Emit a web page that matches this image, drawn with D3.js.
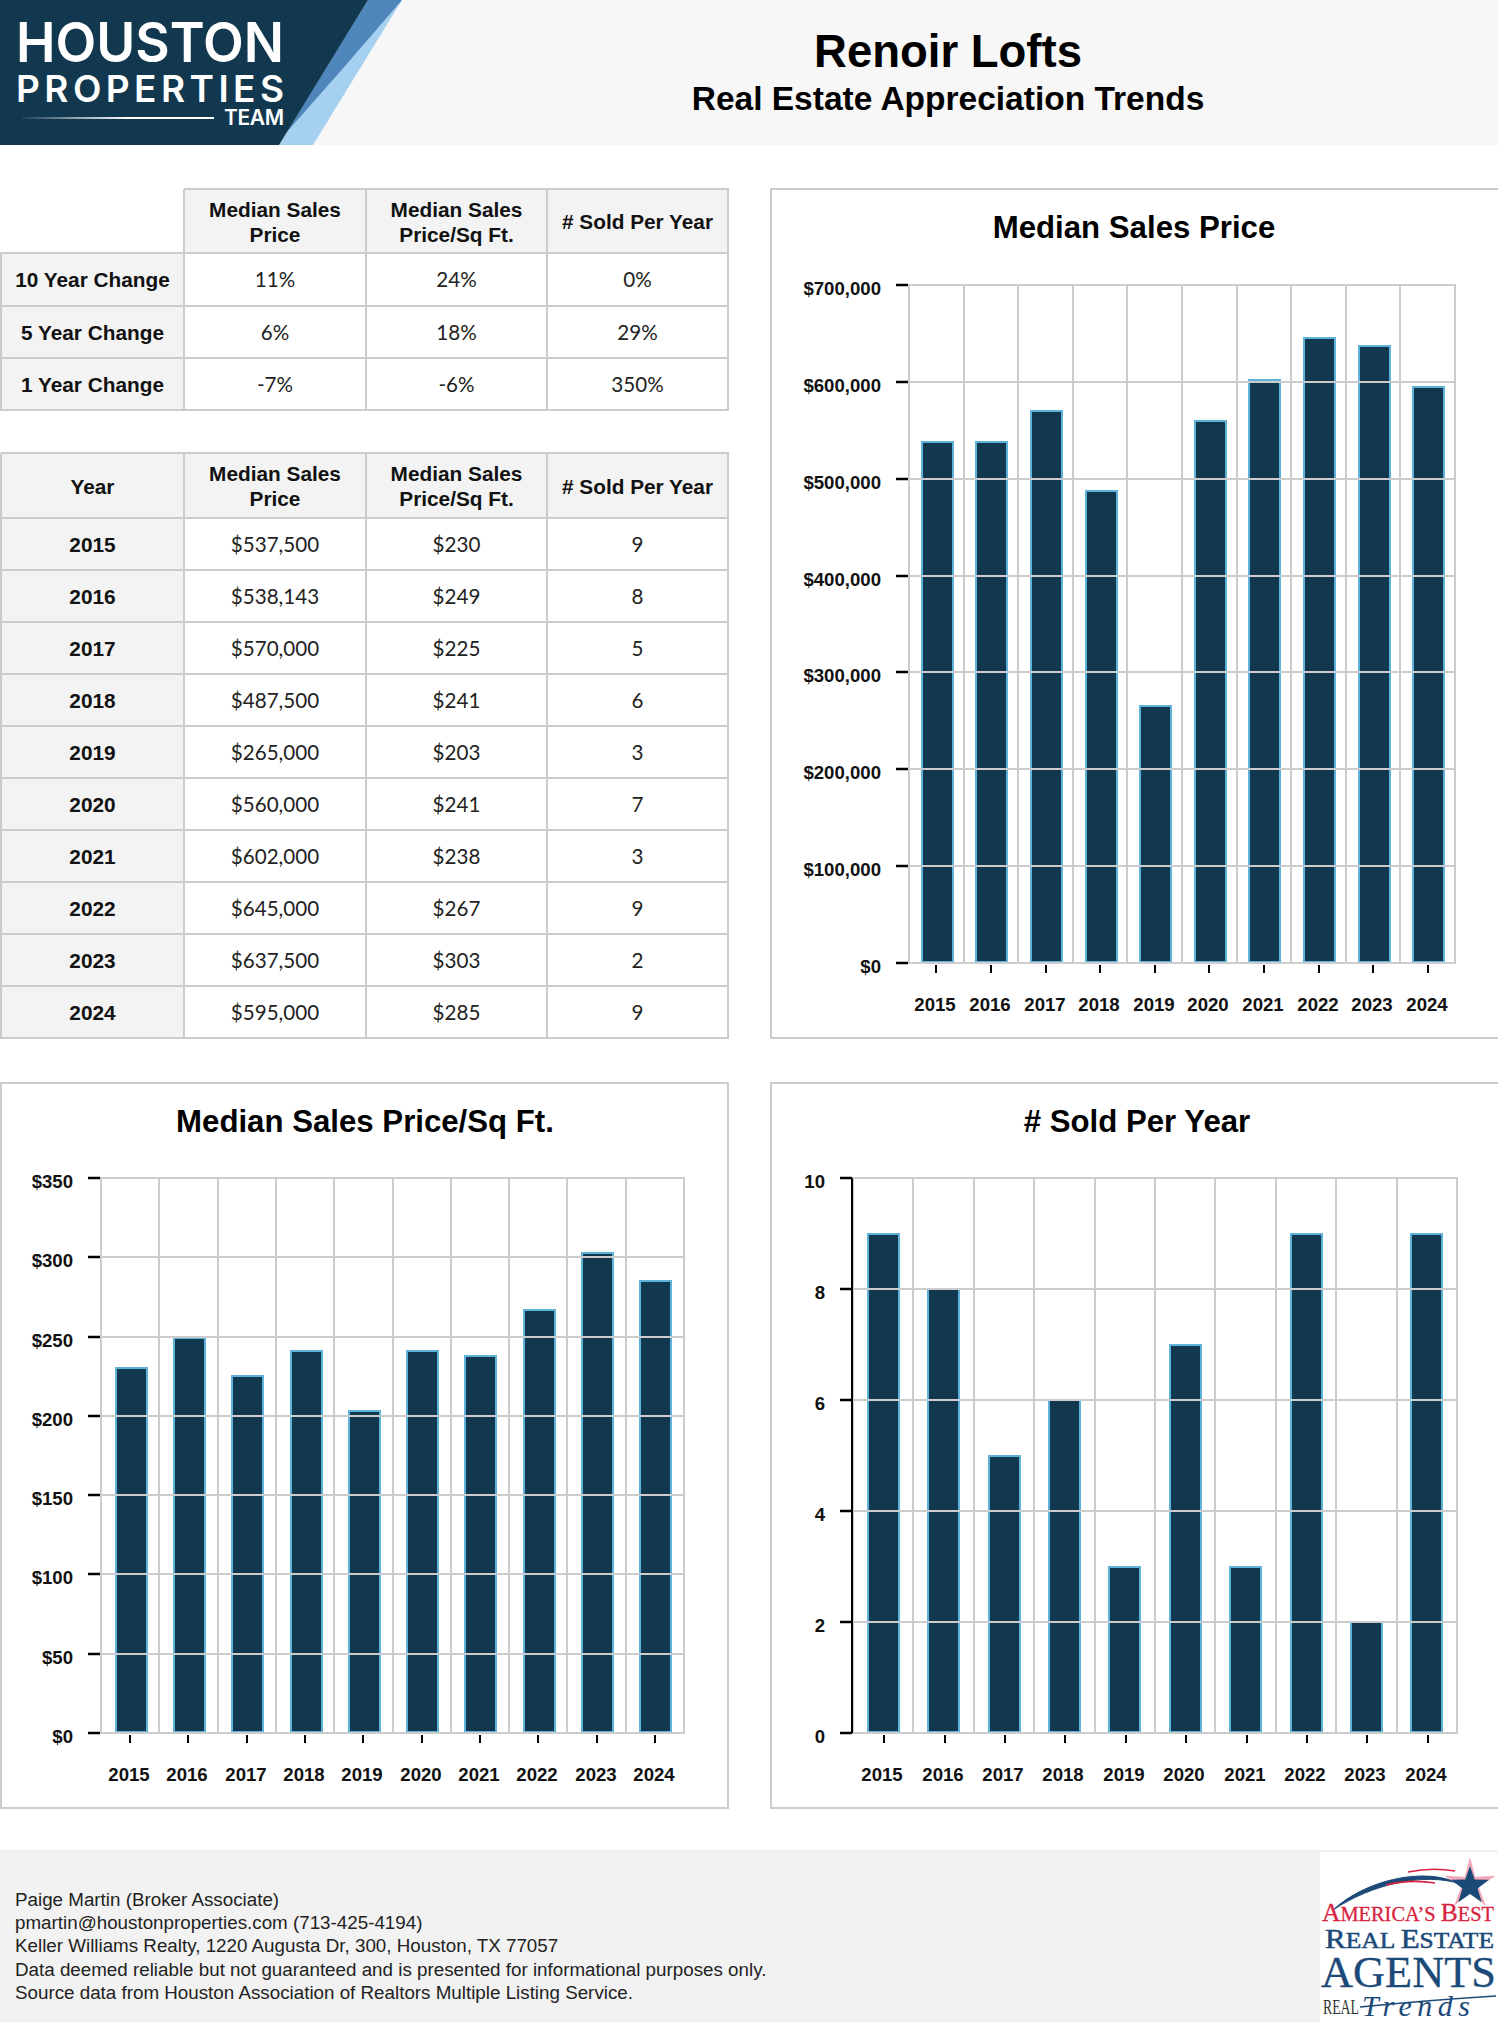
<!DOCTYPE html>
<html><head><meta charset="utf-8">
<script src="https://cdn.jsdelivr.net/npm/d3@7/dist/d3.min.js"></script>
<style>
html,body{margin:0;padding:0;background:#fff;overflow:hidden}
svg{display:block}
text{font-family:"Liberation Sans",Arial,sans-serif}
</style></head><body><div id="c"></div>
<script>
const years=["2015","2016","2017","2018","2019","2020","2021","2022","2023","2024"];
const prices=[537500,538143,570000,487500,265000,560000,602000,645000,637500,595000];
const pricePerSqft=[230,249,225,241,203,241,238,267,303,285];
const soldPerYear=[9,8,5,6,3,7,3,9,2,9];
const priceTicks=[0,100000,200000,300000,400000,500000,600000,700000];
const sqftTicks=[0,50,100,150,200,250,300,350];
const soldTicks=[0,2,4,6,8,10];
const changeLabels=["10 Year Change","5 Year Change","1 Year Change"];
const changePrice=["11%","6%","-7%"];
const changeSqft=["24%","18%","-6%"];
const changeSold=["0%","29%","350%"];
const headerLabels=[["Median Sales","Price"],["Median Sales","Price/Sq Ft."],["# Sold Per Year"]];
const footerLines=["Paige Martin (Broker Associate)","pmartin@houstonproperties.com (713-425-4194)","Keller Williams Realty, 1220 Augusta Dr, 300, Houston, TX 77057","Data deemed reliable but not guaranteed and is presented for informational purposes only.","Source data from Houston Association of Realtors Multiple Listing Service."];

const NAVY="#12384f",SKY="#5fb3da",GRID="#cccccc",CELL="#f3f3f3";
const fmtUSD=d3.format("$,");
const svg=d3.select("#c").append("svg").attr("width",1498).attr("height",2022);
const defs=svg.append("defs");
const lg=defs.append("linearGradient").attr("id","fade");
lg.append("stop").attr("offset","0").attr("stop-color","#fff").attr("stop-opacity",0.05);
lg.append("stop").attr("offset","0.55").attr("stop-color","#fff").attr("stop-opacity",1);

// header band
svg.append("rect").attr("width",1498).attr("height",145).attr("fill","#f7f7f7");
const poly=(g,pts,fill)=>g.append("polygon").attr("points",pts.map(p=>p.join(",")).join(" ")).attr("fill",fill);
const lg1=svg.append("g");
poly(lg1,[[313,145],[279,145],[368,0],[402,0]],"#a6d0f0");
poly(lg1,[[286,133],[368,0],[402,0],[345,66]],"#4f86bb");
poly(lg1,[[0,0],[368,0],[279,145],[0,145]],NAVY);
const ltext=(t,x,y,size,w,mode)=>lg1.append("text").attr("x",x).attr("y",y).attr("fill","#fff").attr("font-size",size)
  .attr("textLength",w).attr("lengthAdjust",mode).style("font-family","Inter").style("font-weight",600).text(t);
ltext("HOUSTON",16,62,55,268,"spacingAndGlyphs");
ltext("PROPERTIES",16,102,37,268,"spacing");
ltext("TEAM",224,125,21,60,"spacing");
lg1.append("rect").attr("x",22).attr("y",117).attr("width",192).attr("height",2).attr("fill","url(#fade)");
svg.append("text").attr("x",948).attr("y",67).attr("text-anchor","middle").attr("font-size",45.5).attr("font-weight",700).text("Renoir Lofts");
svg.append("text").attr("x",948).attr("y",110).attr("text-anchor","middle").attr("font-size",33.5).attr("font-weight",700).text("Real Estate Appreciation Trends");

// tables
const colX=[1,184,366,547,728];
const HEAD=20.8,CELLFONT=20.6;
function table(rowY,headFirst,firstCol,cols){
  const g=svg.append("g");
  const x0=headFirst==null?colX[1]:colX[0];
  g.append("rect").attr("x",x0).attr("y",rowY[0]).attr("width",colX[4]-x0).attr("height",rowY[1]-rowY[0]).attr("fill",CELL);
  g.append("rect").attr("x",colX[0]).attr("y",rowY[1]).attr("width",colX[1]-colX[0]).attr("height",rowY[rowY.length-1]-rowY[1]).attr("fill",CELL);
  rowY.forEach((y,i)=>g.append("line").attr("x1",i==0?x0:colX[0]-1).attr("x2",colX[4]+1).attr("y1",y).attr("y2",y).attr("stroke",GRID).attr("stroke-width",2));
  colX.forEach((x,i)=>g.append("line").attr("x1",x).attr("x2",x).attr("y1",i==0&&headFirst==null?rowY[1]:rowY[0]).attr("y2",rowY[rowY.length-1]).attr("stroke",GRID).attr("stroke-width",2));
  const mid=i=>(colX[i]+colX[i+1])/2;
  const hm=(rowY[0]+rowY[1])/2;
  if(headFirst) g.append("text").attr("x",mid(0)).attr("y",hm+8).attr("text-anchor","middle").attr("font-size",HEAD).attr("font-weight",700).attr("fill","#111").text(headFirst);
  headerLabels.forEach((ls,i)=>ls.forEach((l,j)=>{
    g.append("text").attr("x",mid(i+1)).attr("y",hm+8+(j-(ls.length-1)/2)*25).attr("text-anchor","middle").attr("font-size",HEAD).attr("font-weight",700).attr("fill","#111").text(l);
  }));
  firstCol.forEach((l,r)=>{
    const cy=(rowY[r+1]+rowY[r+2])/2;
    g.append("text").attr("x",mid(0)).attr("y",cy+7.5).attr("text-anchor","middle").attr("font-size",HEAD).attr("font-weight",700).attr("fill","#111").text(l);
    cols.forEach((c,i)=>g.append("text").attr("x",mid(i+1)).attr("y",cy+7.5).attr("text-anchor","middle").attr("font-size",CELLFONT).attr("fill","#222").style("font-family","Lato").text(c[r]));
  });
}
table([189,253,306,358,410],null,changeLabels,[changePrice,changeSqft,changeSold]);
table([453,518].concat(years.map((_,i)=>518+52*(i+1))),"Year",years,[prices.map(fmtUSD),pricePerSqft.map(d=>"$"+d),soldPerYear.map(String)]);

// charts
function chart(o){
  svg.append("rect").attr("x",o.px).attr("y",o.py).attr("width",o.pw).attr("height",o.ph).attr("fill","#fff").attr("stroke",GRID).attr("stroke-width",2);
  svg.append("text").attr("x",o.tx).attr("y",o.ty).attr("text-anchor","middle").attr("font-size",31.2).attr("font-weight",700).text(o.title);
  const x=d3.scaleBand().domain(years).range([o.l,o.r]).paddingInner(o.pad).paddingOuter(o.pad/2);
  const y=d3.scaleLinear().domain([0,o.ticks[o.ticks.length-1]]).rangeRound([o.b,o.t]);
  const step=x.step();
  const gx=i=>Math.round(o.l+i*step);
  const g=svg.append("g");
  g.selectAll("line.v").data(d3.range(0,11)).join("line").attr("class","v")
    .attr("x1",gx).attr("x2",gx).attr("y1",o.t).attr("y2",o.b).attr("stroke",GRID).attr("stroke-width",2);
  g.selectAll("rect.b").data(o.vals).join("rect").attr("class","b")
    .attr("x",(d,i)=>Math.round(x(years[i])+o.barDx)).attr("width",Math.round(x.bandwidth()))
    .attr("y",d=>y(d)).attr("height",d=>y(0)-y(d)-1)
    .attr("fill",NAVY).attr("stroke",SKY).attr("stroke-width",2);
  g.selectAll("line.h").data(o.ticks).join("line").attr("class","h")
    .attr("x1",o.l-1).attr("x2",o.r+1).attr("y1",d=>y(d)).attr("y2",d=>y(d)).attr("stroke",GRID).attr("stroke-width",2);
  const ya=g.append("g").attr("transform",`translate(${o.l-1},0)`)
    .call(d3.axisLeft(y).offset(0).tickValues(o.ticks).tickSize(12).tickPadding(15).tickFormat(o.fmt));
  ya.select(".domain").attr("stroke",o.blackAxis?"#000":"none").attr("stroke-width",2).attr("d",o.blackAxis?`M0,${o.t}V${o.b}`:null);
  ya.selectAll(".tick line").attr("stroke","#000").attr("stroke-width",2.5);
  ya.selectAll(".tick text").attr("font-size",18.6).attr("font-weight",700).attr("fill","#111").attr("dy","0.67em").attr("y",-2)
    .style("font-family","Liberation Sans");
  const xa=g.append("g").attr("transform",`translate(0,${o.b+2})`)
    .call(d3.axisBottom(x).offset(0).tickSize(8).tickPadding(0));
  xa.select(".domain").remove();
  xa.selectAll(".tick").attr("transform",d=>`translate(${Math.round(x(d)+x.bandwidth()/2+o.tickDx)},0)`);
  xa.selectAll(".tick line").attr("stroke","#000").attr("stroke-width",2);
  xa.selectAll(".tick text").attr("font-size",18.6).attr("font-weight",700).attr("fill","#111").attr("x",o.labelDx).attr("y",33).attr("dy","0.71em")
    .style("font-family","Liberation Sans");
}
chart({title:"Median Sales Price",px:771,py:189,pw:730,ph:849,tx:1134,ty:238,l:909,r:1455,t:285,b:963,pad:0.432,barDx:1,tickDx:0,labelDx:-1,vals:prices,ticks:priceTicks,fmt:fmtUSD});
chart({title:"Median Sales Price/Sq Ft.",px:1,py:1083,pw:727,ph:725,tx:365,ty:1132,l:101,r:684,t:1178,b:1733,pad:0.468,barDx:1,tickDx:0,labelDx:-1,vals:pricePerSqft,ticks:sqftTicks,fmt:d=>"$"+d});
chart({title:"# Sold Per Year",px:771,py:1083,pw:730,ph:725,tx:1137,ty:1132,l:853,r:1457,t:1178,b:1733,pad:0.487,barDx:0,tickDx:1,labelDx:-2,vals:soldPerYear,ticks:soldTicks,fmt:d=>String(d),blackAxis:true});

// footer
svg.append("rect").attr("x",0).attr("y",1850).attr("width",1498).attr("height",172).attr("fill","#f2f2f2");
svg.append("g").selectAll("text").data(footerLines).join("text").attr("x",15).attr("y",(d,i)=>1906+i*23.2).attr("font-size",18.8).attr("fill","#222").text(d=>d);

// badge
const b=svg.append("g");
b.append("rect").attr("x",1320).attr("y",1852).attr("width",178).attr("height",170).attr("fill","#fff");
const BLUE="#1c4a78",RED="#d8233f";
b.append("path").attr("d","M1333,1910 C1365,1880 1425,1866 1460,1884 C1425,1872 1372,1884 1333,1910Z").attr("fill",BLUE).attr("stroke",BLUE).attr("stroke-width",1);
b.append("path").attr("d","M1408,1872 Q1432,1867 1455,1871").attr("stroke",RED).attr("stroke-width",1.6).attr("fill","none");
b.append("path").attr("d","M1386,1885 Q1410,1879 1435,1883").attr("stroke",RED).attr("stroke-width",1.6).attr("fill","none");
const star=(cx,cy,R,r)=>d3.range(10).map(i=>{const a=-Math.PI/2+i*Math.PI/5,q=i%2?r:R;return [cx+q*Math.cos(a),cy+q*Math.sin(a)];});
poly(b,star(1470,1884,27,9),"#f3a9b6");
poly(b,star(1470,1886,20,8),BLUE);
function caps(parts,x,y,big,small,w,f,sw){
  const t=b.append("text").attr("x",x).attr("y",y).attr("fill",f).attr("stroke",f).attr("stroke-width",sw||0).attr("textLength",w).attr("lengthAdjust","spacingAndGlyphs").style("font-family","Liberation Serif");
  parts.forEach(([s,isBig])=>t.append("tspan").attr("font-size",isBig?big:small).text(s));
}
caps([["A",1],["MERICA’S ",0],["B",1],["EST",0]],1322,1921,25,20,172,RED,0.3);
caps([["R",1],["EAL ",0],["E",1],["STATE",0]],1325,1948,28,23,169,BLUE,0.5);
caps([["AGENTS",1]],1321,1987,44,44,175,BLUE,0.3);
b.append("text").attr("x",1323).attr("y",2014).attr("font-size",22).attr("fill","#333").attr("textLength",36).attr("lengthAdjust","spacingAndGlyphs").style("font-family","Liberation Serif").text("REAL");
b.append("text").attr("x",1362).attr("y",2016).attr("font-size",30).attr("fill",BLUE).attr("textLength",108).attr("lengthAdjust","spacing").style("font-family","Liberation Serif").style("font-style","italic").text("Trends");
b.append("path").attr("d","M1360,2007 Q1430,2000 1496,1996").attr("stroke",BLUE).attr("stroke-width",1.6).attr("fill","none");
</script></body></html>
